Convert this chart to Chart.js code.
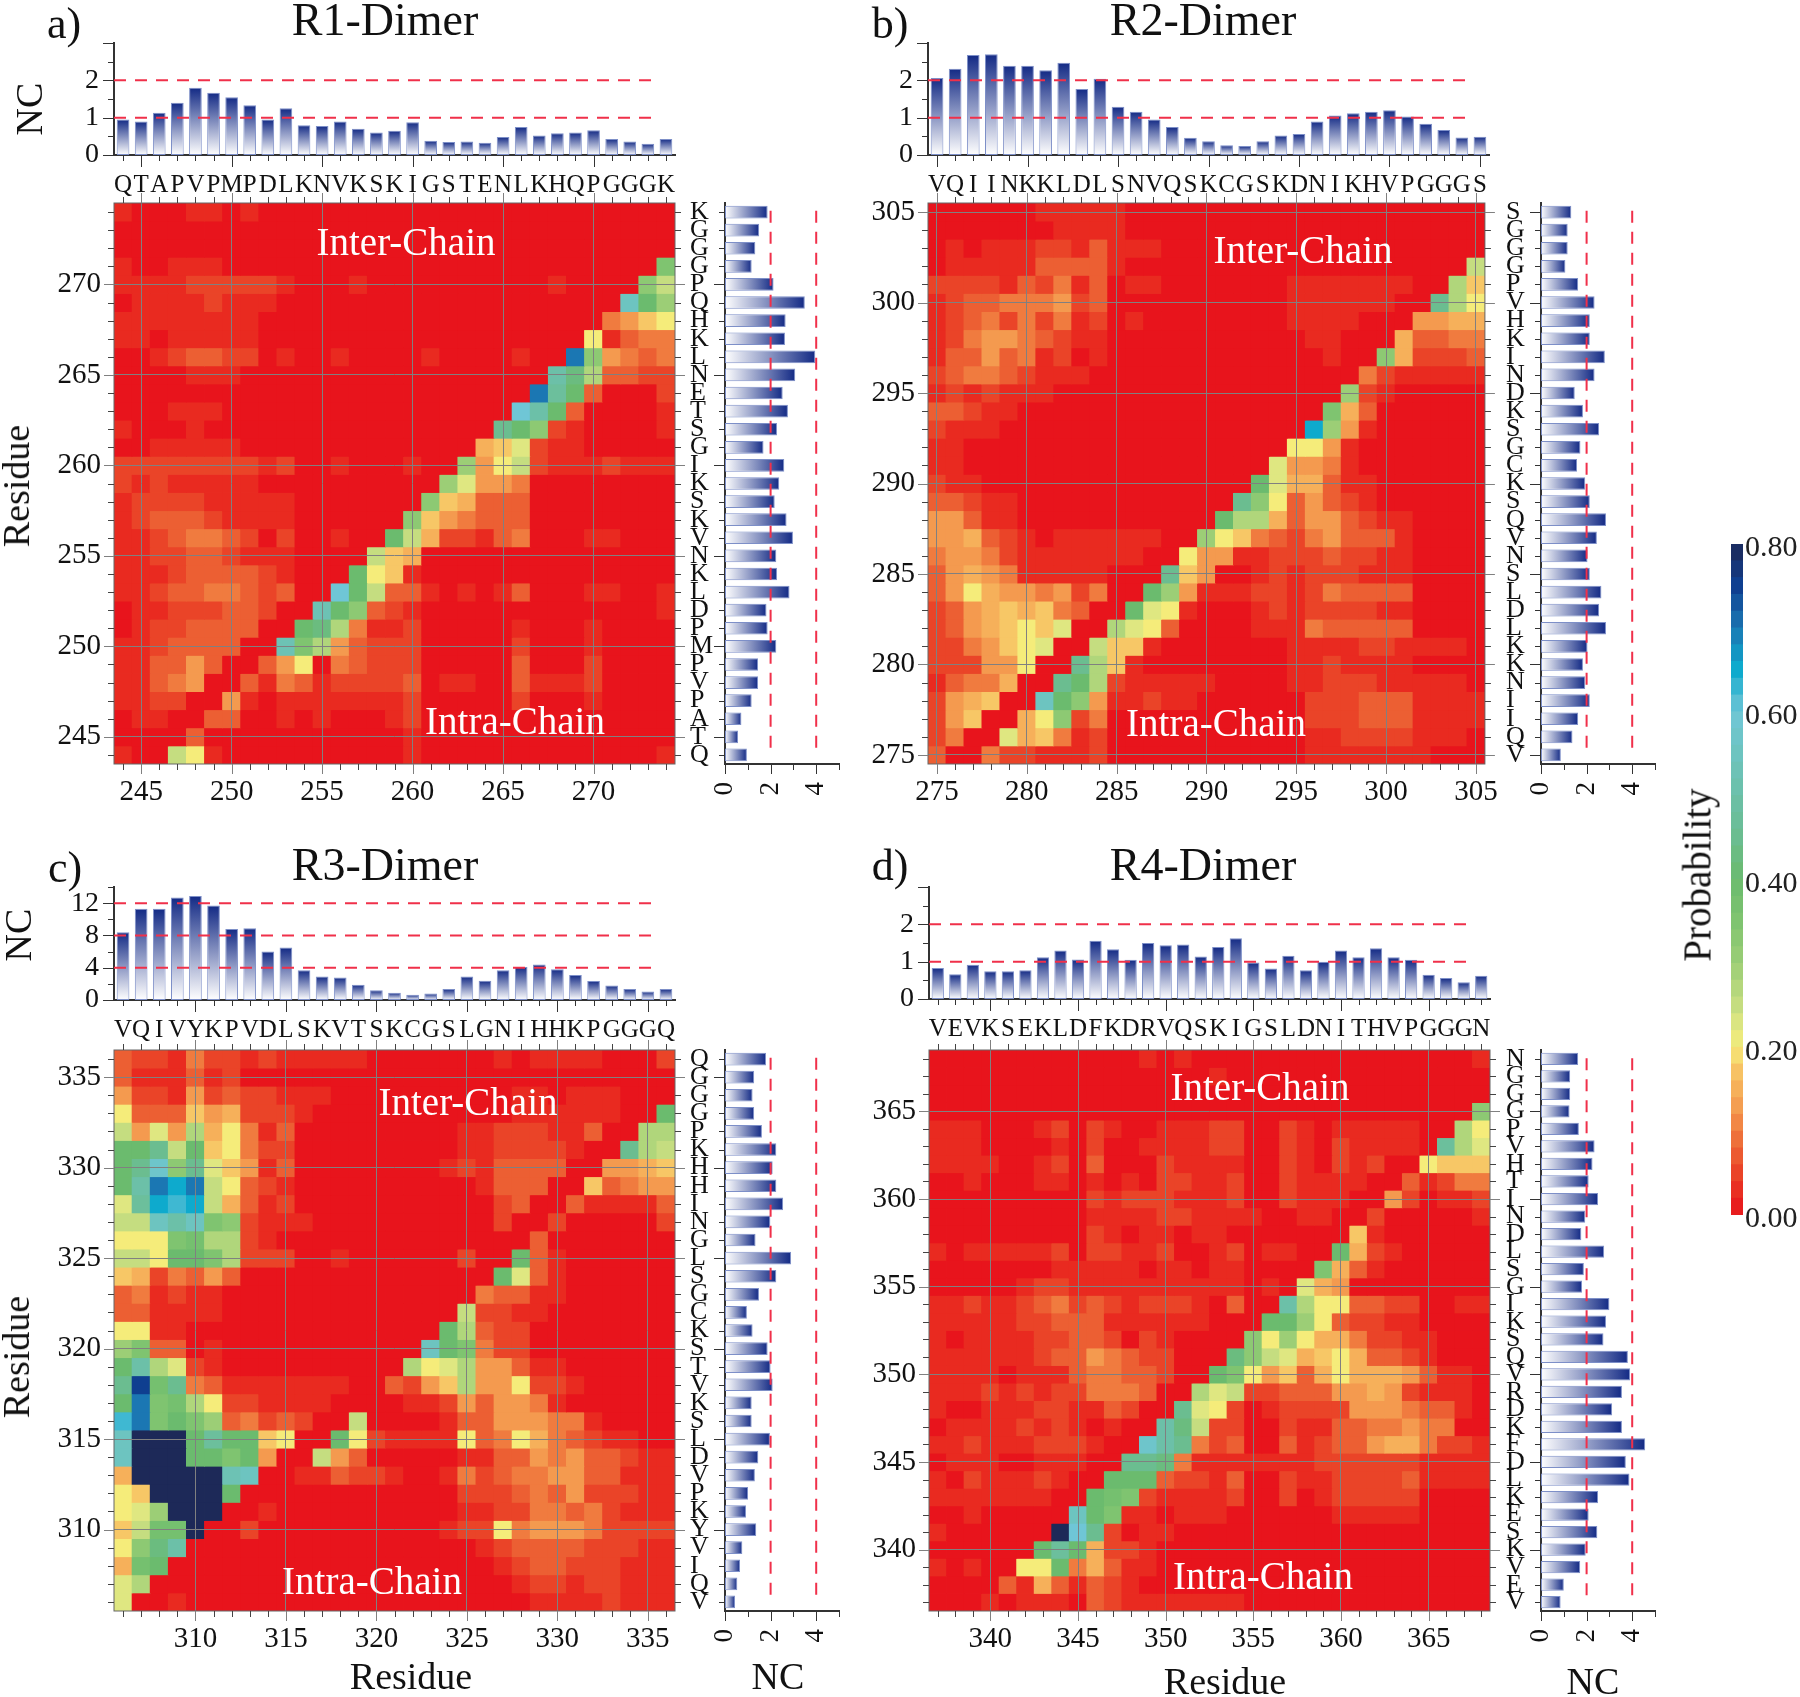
<!DOCTYPE html>
<html>
<head>
<meta charset="utf-8">
<title>Contact maps</title>
<script src="https://cdn.jsdelivr.net/npm/chart.js@4"></script>
<style>
  html, body { margin: 0; background: #fff; }
  #page { position: relative; width: 1800px; height: 1697px; overflow: hidden; font-family: "Liberation Serif", serif; color: #111; }
  #page canvas { position: absolute; }
  .label { position: absolute; white-space: nowrap; transform: translate(-50%, -50%); }
</style>
</head>
<body>
<div id="page"></div>
<script>
// residue letters, low residue first
const r1Seq = 'QTAPVPMPDLKNVKSKIGSTENLKHQPGGGK'.split('');
const r2Seq = 'VQIINKKLDLSNVQSKCGSKDNIKHVPGGGS'.split('');
const r3Seq = 'VQIVYKPVDLSKVTSKCGSLGNIHHKPGGGQ'.split('');
const r4Seq = 'VEVKSEKLDFKDRVQSKIGSLDNITHVPGGGN'.split('');

// NC bars above each map, low residue first
const r1Top = [.95,.9,1.13,1.4,1.8,1.67,1.55,1.33,.95,1.25,.8,.78,.9,.7,.6,.65,.88,.38,.35,.36,.33,.48,.75,.52,.58,.6,.66,.43,.36,.3,.43];
const r2Top = [2.06,2.31,2.68,2.7,2.39,2.39,2.27,2.47,1.77,2.04,1.29,1.16,.95,.75,.46,.37,.26,.24,.37,.52,.56,.9,1.06,1.12,1.16,1.2,1.03,.84,.67,.47,.49];
const r3Top = [8.4,11.3,11.3,12.7,12.9,11.7,8.8,8.9,6,6.5,3.7,2.9,2.8,1.9,1.2,.9,.65,.8,1.35,2.9,2.4,3.7,4.1,4.4,3.8,3.1,2.35,1.8,1.35,1.05,1.35];
const r4Top = [.83,.66,.92,.74,.74,.77,1.12,1.3,1.06,1.56,1.33,1.05,1.5,1.44,1.46,1.14,1.39,1.63,.98,.82,1.16,.77,1,1.3,1.12,1.36,1.12,1.05,.65,.56,.45,.62];

// NC bars right of each map, top row (high residue) first
const r1Right = [1.87,1.5,1.33,1.17,2.13,3.5,2.66,2.63,3.96,3.08,2.53,2.76,2.28,1.69,2.6,2.38,2.18,2.7,2.98,2.25,2.28,2.83,1.82,1.87,2.25,1.45,1.45,1.17,.72,.57,.96];
const r2Right = [1.33,1.17,1.17,1.07,1.63,2.35,2.14,2.14,2.8,2.35,1.48,1.84,2.55,1.73,1.58,1.94,2.14,2.85,2.45,2.04,2.14,2.65,2.55,2.85,2.04,1.84,1.94,2.14,1.63,1.38,.87];
const r3Right = [1.8,1.28,1.21,1.28,1.62,2.25,2.09,2.25,2.55,1.99,1.34,2.9,2.25,1.49,.96,1.21,1.87,2,2.09,1.17,1.17,1.97,1.46,1.31,1.01,.92,1.37,.76,.66,.54,.44];
const r4Right = [1.63,1.28,1.28,1.25,1.66,2.35,2.26,2.09,2.5,1.94,1.77,2.77,1.88,1.8,3,2.85,2.74,3.81,3.91,3.55,3.12,3.55,4.57,3.72,3.88,2.5,2.09,2.47,1.96,1.72,1,.86];

// contact probability, top row first. one base 36 digit per cell, digit x 0.025
const r1Rows = [
  '10001 10100 00000 00000 00000 00000 0',
  '00000 00000 00000 00000 00000 00000 0',
  '00000 00000 00000 00000 00000 00000 0',
  '10011 10000 00000 00000 00000 00000 e',
  '11112 22221 00010 00000 00001 0000d a',
  '01111 21110 00000 00000 00000 000mg c',
  '11111 11100 00000 00000 00000 00457 8',
  '11011 11100 00000 00000 00000 08134 4',
  '00123 32201 00100 00100 00100 sd543 4',
  '00001 11000 00000 00000 0000k hb332 2',
  '00000 00000 00000 00000 000sj g3000 2',
  '00011 10000 00000 00000 00okg 30000 1',
  '10001 00000 00000 00000 0igd2 10000 1',
  '00111 11000 00000 00000 67921 10000 0',
  '22222 22212 00100 0100c 58a21 11211 1',
  '21211 11100 00000 000c9 55400 00000 0',
  '12222 11111 00000 00d76 33300 00000 0',
  '12333 21111 00000 0d754 33300 00000 0',
  '11234 43202 00100 ga622 13400 01100 0',
  '11223 32111 0000a 76000 00000 00000 0',
  '11123 33321 000g8 71000 00000 00000 0',
  '11233 44323 00oga 33101 01300 01100 1',
  '01122 23320 0lgd3 21000 00000 00000 1',
  '01223 33300 ghb41 12000 00100 01000 0',
  '11233 3300l eb532 22000 00200 01000 0',
  '11335 30035 80432 22000 00300 02000 0',
  '11345 00314 31222 23011 00311 12000 0',
  '11220 05101 11111 12000 00200 01000 0',
  '01100 33001 01000 12000 00000 00000 0',
  '00003 00000 00000 01000 00000 00000 0',
  '100a8 10000 00000 01000 00000 00000 1'
];
const r2Rows = [
  '00000 01111 10000 00000 00000 00000 0',
  '00000 00111 10000 00000 00000 00000 0',
  '01011 12213 11100 00000 00000 00000 0',
  '01111 13333 10000 00000 00000 00000 a',
  '22221 32413 01100 00000 11111 1100b 7',
  '12334 44523 00000 00000 11111 100ib 8',
  '12342 42412 01000 00000 11110 00556 6',
  '12455 43211 00000 00000 01100 06334 4',
  '13353 41201 00000 00000 00100 d6222 3',
  '23443 21110 00000 00000 00004 21111 1',
  '12121 11000 00000 00000 000c2 10000 0',
  '33211 00000 00000 00000 00e63 00000 0',
  '21110 00000 00000 00000 0qc51 00000 0',
  '11000 00000 00000 00000 88510 00000 0',
  '11000 00000 00000 00009 55410 00000 0',
  '21100 00000 00000 000g9 66311 00000 0',
  '33211 00000 00000 00id8 35321 00000 0',
  '55311 00000 00000 0gbb6 35532 11000 0',
  '55632 10111 11100 c8743 24533 31000 0',
  '45542 11111 11008 55112 22322 11000 0',
  '35654 11111 000i7 50012 12221 11000 0',
  '35865 54524 00gc5 11122 12433 33000 0',
  '23567 67430 0g981 00012 12222 11000 0',
  '23567 87900 b9830 00011 14333 33000 0',
  '22457 8900a 77100 00000 11112 21111 0',
  '22255 800ib 71000 00000 11211 11000 0',
  '13446 00igb 21111 10000 11222 11111 0',
  '25670 0mgd5 11211 00000 02223 33111 1',
  '25700 68d24 00000 00000 02223 33111 1',
  '24009 67412 00000 00000 01122 22111 0',
  '30042 21112 00000 00000 01111 11100 0'
];
const r3Rows = [
  '32214 22121 11110 00000 01011 11000 2',
  '31113 12000 00000 00000 00000 00000 0',
  '52215 23221 11000 00000 00110 11100 0',
  '83337 56222 10000 00000 00111 11100 g',
  'a595b 68413 00000 00001 12221 1300b b',
  'ggiag 78422 00000 00001 12222 100ib a',
  'gindi 97513 00000 00012 13333 00556 7',
  'gksqs a8321 00000 00000 13330 07345 5',
  '9jqpq a6312 00000 00000 02300 31111 3',
  'aamkm ed211 10000 00000 02002 00000 2',
  '888ef bb210 00000 00000 00030 00000 0',
  'aa8gg eb222 00100 00002 00g31 00000 0',
  '76243 53000 00000 00000 0g931 00000 0',
  '34121 10000 00000 00000 43311 00000 0',
  '33111 10000 00000 0000a 22110 00000 0',
  '88110 00000 00000 000gb 32200 00000 0',
  'ce330 10000 00000 00mge 42200 00000 0',
  'gkb92 10000 00000 0b89b 55311 00000 0',
  'iufi4 31111 11100 3257b 55822 10000 0',
  'gsefb 82211 11000 01125 35541 00000 0',
  'psege c3423 200a0 00013 35554 41000 0',
  'mwwwg jgg78 00g82 11118 34864 32110 0',
  'mwwwg geg50 0a530 00001 13354 53321 1',
  '6wwww wlm00 11322 10014 23445 53311 1',
  '87www wg000 00000 00002 22343 52221 1',
  '89cww w0010 00000 00001 12244 34211 1',
  '7affw 00200 00000 00012 28455 54222 2',
  '8dhk0 00000 00000 00000 12333 32221 1',
  '6fg00 00000 00000 00000 01233 22211 1',
  '9b000 00000 00000 00000 00122 12211 1',
  '90010 00000 00000 00000 00011 11211 1'
];
const r4Rows = [
  '00000 00000 00101 00000 00000 00000 01',
  '00000 00000 00000 01000 00000 00000 00',
  '00000 00000 00000 00000 00000 00000 00',
  '00000 00000 00000 00000 00000 00000 0d',
  '11100 01202 10011 12200 21011 11100 b8',
  '11100 00102 00111 12200 21021 1110j b9',
  '11110 01203 00021 11100 21021 20087 77',
  '00100 01101 01022 11200 21111 00312 44',
  '00000 00002 12221 11200 21110 05201 12',
  '00000 00001 11122 11110 01100 20000 01',
  '00000 00002 10110 11000 00007 10000 00',
  '10111 11202 21120 01201 100g6 21000 00',
  '00000 00111 11011 01100 00e63 10000 00',
  '00000 12211 11111 11101 09650 00000 00',
  '11211 23423 21222 10300 kb883 32200 11',
  '11111 22333 11111 1000g gc832 21100 00',
  '10111 12233 20210 000d8 c8664 22110 00',
  '11111 12335 43220 00hda 96786 33210 00',
  '11110 11134 43320 0ge85 73686 66531 10',
  '11121 21224 44300 b9a22 33355 65211 10',
  '10011 12211 3200i 98201 22225 55433 10',
  '01111 21210 100kh a2200 21133 44544 00',
  '11211 12221 00nki 42300 31233 56642 21',
  '01110 01110 0iih4 11111 11222 22211 11',
  '10211 12100 ggg32 21300 21122 22311 11',
  '11111 1100g fe211 11200 20122 22200 00',
  '00100 000mg e1101 11000 00011 11100 00',
  '10000 00woi 20110 00000 00000 00000 00',
  '00000 0gjg6 22100 00000 00000 00000 00',
  '10100 88g46 31100 00000 00000 00000 00',
  '00003 16313 21000 00000 00000 00000 00',
  '00010 11103 21111 11100 00000 00000 00'
];

// colour bar steps and colour map stops
const probLevels = [0,.02,.04,.06,.08,.1,.12,.14,.16,.18,.2,.22,.24,.26,.28,.3,.32,.34,.36,.38,.4,.42,.44,.46,.48,.5,.52,.54,.56,.58,.6,.62,.64,.66,.68,.7,.72,.74,.76,.78];
const probTicks = [0, .2, .4, .6, .8];
const colorStops = [
  [0,'#e8141c'],[.025,'#e92a20'],[.05,'#ea4428'],[.075,'#ec5f33'],[.1,'#f07b3f'],[.125,'#f49a4f'],
  [.15,'#f6b05a'],[.175,'#f7c766'],[.2,'#f5ec7a'],[.225,'#dfe781'],[.25,'#c5dd80'],[.3,'#9cce76'],
  [.35,'#7fc470'],[.4,'#6bbb6e'],[.45,'#6bbd90'],[.5,'#6cc0a8'],[.55,'#6dc4c0'],[.6,'#6fc6d6'],
  [.65,'#0eaacd'],[.7,'#1b77b3'],[.75,'#0f3f90'],[.8,'#1d2958']
];

Chart.defaults.font.family = '"Liberation Serif", serif';
Chart.defaults.color = '#111';

const page = document.getElementById('page');
const DASH_RED = '#f0304a';
const DASH = [12, 9];

function hexToRgb(h) {
  return [1, 3, 5].map(i => parseInt(h.substr(i, 2), 16));
}

function probColor(v) {
  for (let i = 1; i < colorStops.length; i++) {
    if (v <= colorStops[i][0]) {
      const [a, ca] = colorStops[i - 1];
      const [b, cb] = colorStops[i];
      const t = (v - a) / (b - a);
      const p = hexToRgb(ca), q = hexToRgb(cb);
      return `rgb(${p.map((c, k) => Math.round(c + (q[k] - c) * t)).join(',')})`;
    }
  }
  return colorStops[colorStops.length - 1][1];
}

function addCanvas(left, top, width, height) {
  const c = document.createElement('canvas');
  c.width = width;
  c.height = height;
  c.style.left = left + 'px';
  c.style.top = top + 'px';
  c.style.width = width + 'px';
  c.style.height = height + 'px';
  page.appendChild(c);
  return c.getContext('2d');
}

function addText(text, x, y, size, color, rotate) {
  const el = document.createElement('div');
  el.className = 'label';
  el.textContent = text;
  el.style.left = x + 'px';
  el.style.top = y + 'px';
  el.style.fontSize = size + 'px';
  if (color) el.style.color = color;
  if (rotate) el.style.transform = `translate(-50%, -50%) rotate(${rotate}deg)`;
  page.appendChild(el);
}

// one tick per residue. with a half-integer min the linear scale would tick at .5
function residueTicks(first, n) {
  return s => {
    s.ticks = Array.from({ length: n }, (_, i) => ({ value: first + i }));
  };
}

// tick marks with two lengths, chart.js only has one tickLength per scale
function drawTickMarks(chart, specs) {
  const ctx = chart.ctx;
  const area = chart.chartArea;
  ctx.save();
  ctx.lineWidth = 1;
  specs.forEach(s => {
    const scale = chart.scales[s.axis];
    scale.ticks.forEach(t => {
      const p = Math.round(scale.getPixelForValue(t.value)) + .5;
      const ratio = t.value / s.every;
      const major = Math.abs(ratio - Math.round(ratio)) < 1e-6;
      const len = major ? s.major : s.minor;
      ctx.strokeStyle = major ? (s.majorColor || s.color) : s.color;
      ctx.beginPath();
      if (s.side === 'bottom') { ctx.moveTo(p, area.bottom); ctx.lineTo(p, area.bottom + len); }
      if (s.side === 'top') { ctx.moveTo(p, area.top); ctx.lineTo(p, area.top - len); }
      if (s.side === 'left') { ctx.moveTo(area.left, p); ctx.lineTo(area.left - len, p); }
      if (s.side === 'right') { ctx.moveTo(area.right, p); ctx.lineTo(area.right + len, p); }
      ctx.stroke();
    });
  });
  ctx.restore();
}

function baseOptions(padding) {
  return {
    responsive: false,
    animation: false,
    events: [],
    layout: { padding },
    plugins: { legend: { display: false }, tooltip: { enabled: false } }
  };
}

// layout padding has to stay above half a label height + tick padding, or the plot shrinks
function heatmapChart(p) {
  const n = p.seq.length;
  const first = p.first, last = first + n - 1;
  const rows = p.rows.map(r => r.replace(/ /g, ''));
  const datasets = rows.map((r, j) => {
    const residue = last - j;
    const cells = r.split('').map(c => parseInt(c, 36) * .025);
    return {
      data: cells.map((_, i) => ({ x: first + i, y: [residue - .5, residue + .5] })),
      backgroundColor: cells.map(probColor),
      borderWidth: 0,
      grouped: false,
      barPercentage: 1,
      categoryPercentage: 1,
      inflateAmount: .4
    };
  });
  const gridColor = ctx => (ctx.tick && ctx.tick.value % 5 === 0 ? '#808080' : 'rgba(0,0,0,0)');
  const tickLabel = v => (v % 5 === 0 ? String(v) : '');
  const axis = {
    type: 'linear', min: first - .5, max: last + .5, offset: false,
    afterBuildTicks: residueTicks(first, n),
    border: { display: false },
    grid: { color: gridColor, drawTicks: false, z: 1, lineWidth: 1, offset: false },
    ticks: { autoSkip: false, maxRotation: 0, callback: tickLabel, font: { size: 29 }, color: '#111' }
  };
  const specs = ['bottom', 'top', 'left', 'right'].map(side => ({
    axis: side === 'bottom' || side === 'top' ? 'x' : 'y',
    side, every: 5, minor: 6, major: 10, color: '#444', majorColor: '#808080'
  }));
  const b = p.heat;
  new Chart(addCanvas(b.left - 80, b.top - 32, 561 + 100, 561 + 32 + 50), {
    type: 'bar',
    data: { datasets },
    options: {
      ...baseOptions({ top: 32, right: 20 }),
      scales: {
        x: { ...axis, ticks: { ...axis.ticks, padding: 11 }, afterFit: s => { s.height = 50; } },
        y: { ...axis, ticks: { ...axis.ticks, padding: 13 }, afterFit: s => { s.width = 80; } }
      }
    },
    plugins: [{
      id: 'heatFrame',
      afterDraw(chart) {
        const a = chart.chartArea;
        chart.ctx.strokeStyle = '#666';
        chart.ctx.lineWidth = 1;
        chart.ctx.strokeRect(a.left, a.top, a.right - a.left, a.bottom - a.top);
        drawTickMarks(chart, specs);
      }
    }]
  });
}

function topBarChart(p) {
  const n = p.seq.length;
  const first = p.first;
  const bars = p.top.map((v, i) => ({ x: first + i, y: v }));
  const gradient = ctx => {
    if (!ctx.raw) return '#fff';
    const y = ctx.chart.scales.y;
    const y0 = y.getPixelForValue(ctx.raw.y), y1 = y.getPixelForValue(0);
    if (!isFinite(y0) || !isFinite(y1)) return '#fff';
    const g = ctx.chart.ctx.createLinearGradient(0, y0, 0, y1);
    g.addColorStop(0, '#132a85');
    g.addColorStop(1, '#ffffff');
    return g;
  };
  const dashes = p.dashes.map(v => ({
    type: 'line',
    data: [{ x: first - .5, y: v }, { x: first + n - 1.7, y: v }],
    borderColor: DASH_RED, borderWidth: 2, borderDash: DASH, pointRadius: 0, order: 0
  }));
  const b = p.topBox;
  const specs = [
    { axis: 'x', side: 'bottom', every: 5, minor: 6, major: 12, color: '#333' },
    { axis: 'y', side: 'left', every: p.topMajor, minor: 6, major: 11, color: '#333' }
  ];
  new Chart(addCanvas(p.heat.left - 60, b.top - 33, 561 + 80, b.base - b.top + 33 + 45), {
    type: 'bar',
    data: {
      datasets: [...dashes, {
        data: bars, backgroundColor: gradient, borderColor: '#7d8fc8', borderWidth: 1,
        borderSkipped: false, barPercentage: .7, categoryPercentage: 1, order: 1
      }]
    },
    options: {
      ...baseOptions({ top: 33, right: 20 }),
      scales: {
        x: {
          type: 'linear', min: first - .5, max: first + n - .5, offset: false,
          afterBuildTicks: residueTicks(first, n),
          border: { color: '#333', width: 2 },
          grid: { display: false, drawTicks: false, offset: false },
          ticks: { autoSkip: false, maxRotation: 0, padding: 15, font: { size: 25 },
            callback: v => p.seq[v - first] || '' },
          afterFit: s => { s.height = 45; }
        },
        y: {
          min: 0, max: p.topMax,
          border: { color: '#333', width: 2 },
          grid: { display: false, drawTicks: false },
          ticks: { stepSize: p.topStep, autoSkip: false, padding: 15, font: { size: 28 },
            callback: v => (v % p.topMajor === 0 && v <= p.topLabelMax ? String(v) : '') },
          afterFit: s => { s.width = 60; }
        }
      }
    },
    plugins: [{ id: 'topTicks', afterDraw: chart => drawTickMarks(chart, specs) }]
  });
}

function rightBarChart(p) {
  const n = p.seq.length;
  const first = p.first, last = first + n - 1;
  const bars = p.right.slice().reverse().map((v, i) => ({ x: v, y: first + i }));
  const gradient = ctx => {
    if (!ctx.raw) return '#fff';
    const x = ctx.chart.scales.x;
    const x0 = x.getPixelForValue(0), x1 = x.getPixelForValue(ctx.raw.x);
    if (!isFinite(x0) || !isFinite(x1)) return '#fff';
    const g = ctx.chart.ctx.createLinearGradient(x0, 0, x1, 0);
    g.addColorStop(0, '#ffffff');
    g.addColorStop(1, '#132a85');
    return g;
  };
  const dashes = [2, 4].map(v => ({
    type: 'line',
    data: [{ x: v, y: first + .4 }, { x: v, y: last + .5 }],
    borderColor: DASH_RED, borderWidth: 2, borderDash: DASH, pointRadius: 0, order: 0
  }));
  const specs = [
    { axis: 'y', side: 'left', every: 5, minor: 6, major: 11, color: '#333' },
    { axis: 'x', side: 'bottom', every: 2, minor: 6, major: 10, color: '#333' }
  ];
  new Chart(addCanvas(p.rightAxis - 35, p.heat.top - 20, 35 + 114 + 55, 561 + 70), {
    type: 'bar',
    data: {
      datasets: [...dashes, {
        data: bars, backgroundColor: gradient, borderColor: '#7d8fc8', borderWidth: 1,
        borderSkipped: false, barPercentage: .7, categoryPercentage: 1, order: 1
      }]
    },
    options: {
      ...baseOptions({ top: 20, right: 55 }),
      indexAxis: 'y',
      scales: {
        x: {
          type: 'linear', min: 0, max: 5, offset: false,
          border: { color: '#333', width: 2 },
          grid: { display: false, drawTicks: false },
          ticks: { stepSize: 1, autoSkip: false, minRotation: 90, maxRotation: 90, padding: 18, font: { size: 27 },
            callback: v => (v % 2 === 0 && v < 5 ? String(v) : '') },
          afterFit: s => { s.height = 50; }
        },
        y: {
          type: 'linear', min: first - .5, max: last + .5, offset: false,
          afterBuildTicks: residueTicks(first, n),
          border: { color: '#333', width: 2 },
          grid: { display: false, drawTicks: false, offset: false },
          ticks: { autoSkip: false, crossAlign: 'far', padding: 0, font: { size: 26 },
            callback: v => p.seq[v - first] || '' },
          afterFit: s => { s.width = 35; }
        }
      }
    },
    plugins: [{ id: 'rightTicks', afterDraw: chart => drawTickMarks(chart, specs) }]
  });
}

function colorBar() {
  const datasets = probLevels.map(v => ({
    data: [{ x: 'bar', y: [v, v + .02] }],
    backgroundColor: probColor(v + .01),
    borderWidth: 0, grouped: false, barPercentage: 1, categoryPercentage: 1, inflateAmount: .4
  }));
  new Chart(addCanvas(1725, 521, 78, 671 + 46), {
    type: 'bar',
    data: { labels: ['bar'], datasets },
    options: {
      ...baseOptions({ top: 23, bottom: 23, left: 6 }),
      scales: {
        x: { type: 'category', display: false },
        y: { position: 'right', min: 0, max: .8, display: false },
        // labels sit a little below their colour in the reference, so a second scale carries them
        yLabels: {
          position: 'right', min: .0054, max: .8054,
          afterBuildTicks: s => { s.ticks = probTicks.map(value => ({ value })); },
          border: { display: false },
          grid: { display: false, drawTicks: false },
          ticks: { autoSkip: false, padding: 2, font: { size: 30 }, color: '#222', callback: v => v.toFixed(2) },
          afterFit: s => { s.width = 60; }
        }
      }
    }
  });
}

const panels = [
  { name: 'R1', first: 244, seq: r1Seq, top: r1Top, right: r1Right, rows: r1Rows,
    heat: { left: 114, top: 203 }, topBox: { top: 43, base: 155 }, rightAxis: 725,
    topMax: 3, topStep: .5, topMajor: 1, topLabelMax: 2, dashes: [1, 2] },
  { name: 'R2', first: 275, seq: r2Seq, top: r2Top, right: r2Right, rows: r2Rows,
    heat: { left: 928, top: 203 }, topBox: { top: 43, base: 155 }, rightAxis: 1541,
    topMax: 3, topStep: .5, topMajor: 1, topLabelMax: 2, dashes: [1, 2] },
  { name: 'R3', first: 306, seq: r3Seq, top: r3Top, right: r3Right, rows: r3Rows,
    heat: { left: 114, top: 1050 }, topBox: { top: 887, base: 1000 }, rightAxis: 725,
    topMax: 14, topStep: 2, topMajor: 4, topLabelMax: 12, dashes: [4, 8, 12] },
  { name: 'R4', first: 337, seq: r4Seq, top: r4Top, right: r4Right, rows: r4Rows,
    heat: { left: 929, top: 1050 }, topBox: { top: 887, base: 999 }, rightAxis: 1541,
    topMax: 3, topStep: .5, topMajor: 1, topLabelMax: 2, dashes: [1, 2] }
];

panels.forEach(p => {
  heatmapChart(p);
  topBarChart(p);
  rightBarChart(p);
});
colorBar();

// titles and captions
[['a)', 64, 23], ['b)', 890, 23], ['c)', 65, 867], ['d)', 890, 865]].forEach(t => addText(t[0], t[1], t[2], 44));
[['R1-Dimer', 385, 19], ['R2-Dimer', 1203, 19], ['R3-Dimer', 385, 864], ['R4-Dimer', 1203, 864]].forEach(t => addText(t[0], t[1], t[2], 46));
[['Inter-Chain', 406, 241], ['Intra-Chain', 515, 720], ['Inter-Chain', 1303, 249], ['Intra-Chain', 1216, 722],
 ['Inter-Chain', 468, 1101], ['Intra-Chain', 372, 1580], ['Inter-Chain', 1260, 1086], ['Intra-Chain', 1263, 1575]]
  .forEach(t => addText(t[0], t[1], t[2], 39, '#fff'));
addText('NC', 29, 109, 38, null, -90);
addText('NC', 18, 935, 38, null, -90);
addText('Residue', 16, 486, 38, null, -90);
addText('Residue', 16, 1357, 38, null, -90);
addText('Residue', 411, 1676, 38);
addText('Residue', 1225, 1681, 38);
addText('NC', 778, 1676, 38);
addText('NC', 1593, 1681, 38);
addText('Probability', 1697, 875, 39, null, -90);
</script>
</body>
</html>
